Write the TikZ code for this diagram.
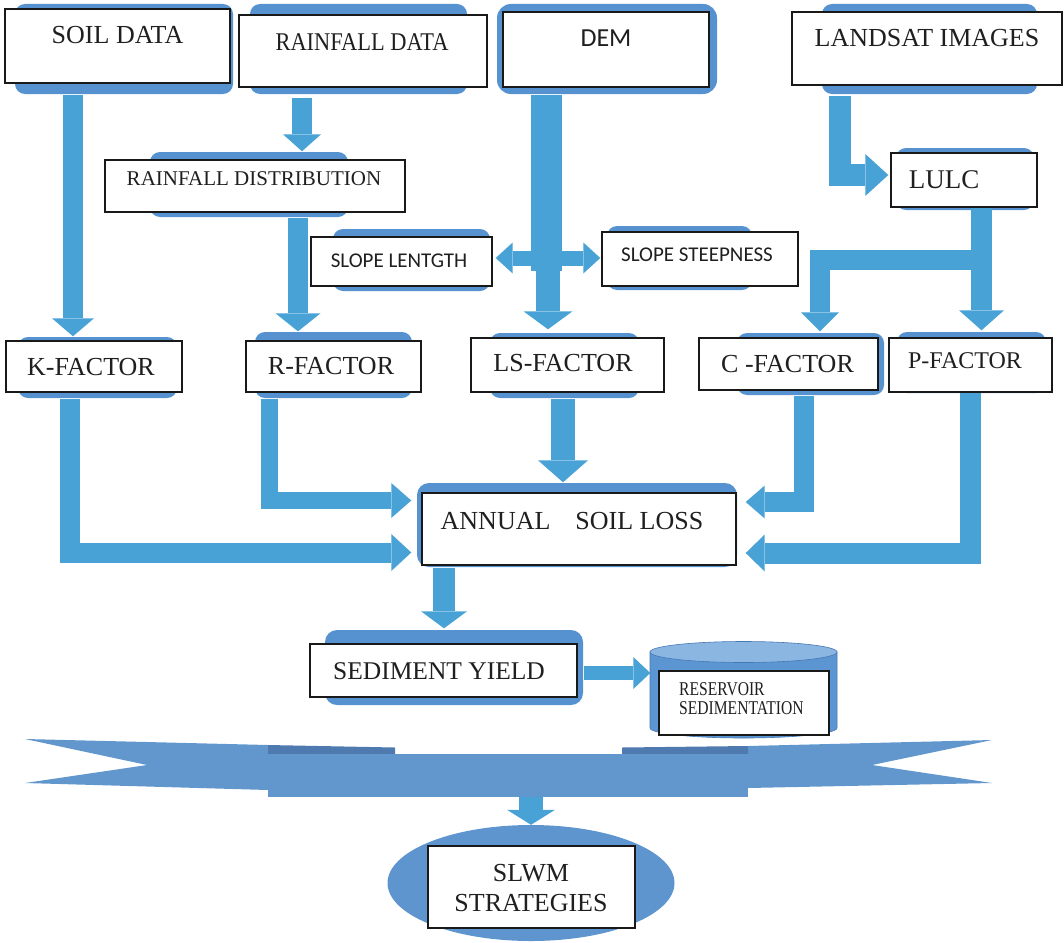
\documentclass[tikz,border=0pt]{standalone}
\usepackage{fontspec}
\setmainfont{Liberation Serif}
\newfontfamily\calib{Carlito}
\newfontfamily\condA[FakeStretch=0.88]{Liberation Serif}
\newfontfamily\condB[FakeStretch=0.8]{Liberation Serif}
\usetikzlibrary{calc,arrows.meta,shapes.geometric}
\definecolor{arrowc}{RGB}{72,162,213}
\definecolor{backc}{RGB}{86,146,208}
\definecolor{bannerc}{RGB}{98,151,205}
\definecolor{foldc}{RGB}{78,122,176}
\definecolor{cylc}{RGB}{91,150,210}
\definecolor{cyltop}{RGB}{140,182,226}
\definecolor{cylline}{RGB}{70,120,180}
\definecolor{ellc}{RGB}{94,149,207}
\begin{document}
\begin{tikzpicture}[x=1pt,y=-1pt,
  box/.style={draw=black!90, line width=1.4pt, fill=white, inner sep=0pt},
  back/.style={fill=backc, rounded corners=10pt},
  lbl/.style={inner sep=0pt, text=black!88},
  ar/.style n args={3}{draw=arrowc, line width=#1, -{Triangle[width=#2,length=#3,line width=0pt]}},
  dar/.style n args={3}{draw=arrowc, line width=#1, {Triangle[width=#2,length=#3,line width=0pt]}-{Triangle[width=#2,length=#3,line width=0pt]}},
]
\useasboundingbox (0,0) rectangle (1064,942);

% backings
\fill[back] (15,4) rectangle (233,94);
\fill[back] (250,4) rectangle (467,94);
\fill[back, rounded corners=14pt] (497,4) rectangle (717,94);
\fill[back] (822,4) rectangle (1037,94);
\fill[back] (150,152) rectangle (348,217);
\fill[back] (333,229) rectangle (490,291);
\fill[back] (607,226) rectangle (752,290);
\fill[back] (896,148) rectangle (1034,210);
\fill[back] (18,337) rectangle (177,398);
\fill[back] (255,332) rectangle (412,398);
\fill[back] (490,333) rectangle (639,398);
\fill[back] (737,333) rectangle (884,395);
\fill[back] (897,332) rectangle (1046,393);
\fill[back, rounded corners=12pt] (417,483) rectangle (737,567);
\fill[back, rounded corners=12pt] (325,630) rectangle (583,705);

% boxes
\node[box, minimum width=225pt, minimum height=74pt] (soil) at (117.5,46) {};
\node[box, minimum width=248pt, minimum height=72pt] (rain) at (363,51) {};
\node[box, minimum width=206pt, minimum height=75pt] (dem) at (606,49.5) {};
\node[box, minimum width=270pt, minimum height=73pt] (landsat) at (927,48.5) {};
\node[box, minimum width=300pt, minimum height=52pt] (dist) at (255,186) {};
\node[box, minimum width=181pt, minimum height=49pt] (slopeL) at (401.5,261.5) {};
\node[box, minimum width=196pt, minimum height=54pt] (slopeS) at (700,259) {};
\node[box, minimum width=146pt, minimum height=54pt] (lulc) at (964,180) {};
\node[box, minimum width=176pt, minimum height=51pt] (k) at (94,366.5) {};
\node[box, minimum width=175pt, minimum height=51pt] (r) at (333.5,366.5) {};
\node[box, minimum width=193pt, minimum height=54pt] (ls) at (567.5,365) {};
\node[box, minimum width=179pt, minimum height=52pt] (c) at (788.5,364) {};
\node[box, minimum width=163pt, minimum height=54pt] (p) at (970.5,365) {};
\node[box, minimum width=314pt, minimum height=72pt] (annual) at (579,529) {};
\node[box, minimum width=267pt, minimum height=53pt] (sed) at (443.5,670.5) {};

% reservoir cylinder
\fill[cylc, draw=cylline, line width=0.6pt] (650,652) -- (650,728)
  arc[start angle=180, end angle=360, x radius=93.5pt, y radius=10pt] -- (837,652) -- cycle;
\filldraw[fill=cyltop, draw=cylline, line width=0.6pt] (743.5,652) ellipse [x radius=93.5pt, y radius=10.5pt];
\node[box, minimum width=170pt, minimum height=64pt] (resbox) at (744,703) {};

% banner
\fill[bannerc] (25,739) -- (268,745) -- (268,790) -- (25,783) -- (147,765) -- cycle;
\fill[foldc] (268,745) -- (395,747.5) -- (395,754) -- (268,754) -- cycle;
\fill[bannerc] (992,740) -- (748,746) -- (748,788) -- (992,783) -- (872,765) -- cycle;
\fill[foldc] (748,746) -- (622,747.5) -- (622,754) -- (748,754) -- cycle;
\node[fill=bannerc, minimum width=480pt, minimum height=43pt, inner sep=0pt] (banner) at (508,775.5) {};

% goal ellipse
\node[ellipse, fill=ellc, minimum width=287pt, minimum height=116pt, inner sep=0pt] (goal) at (531,883) {};
\node[box, minimum width=207pt, minimum height=82pt] (slwmbox) at (531.5,887) {};

% texts
\node[lbl, font={\fontsize{26}{30}\selectfont}] (soilt) at (117.5,35) {SOIL DATA};
\node[lbl, font={\condA\fontsize{25.5}{30}\selectfont}] (raint) at (362,42) {RAINFALL DATA};
\node[lbl, font={\calib\fontsize{26}{30}\selectfont}] (demt) at (606,38) {DEM};
\node[lbl, font={\fontsize{26}{30}\selectfont}] (landsatt) at (927,38) {LANDSAT IMAGES};
\node[lbl, font={\fontsize{21}{25}\selectfont}] (distt) at (254,178.5) {RAINFALL DISTRIBUTION};
\node[lbl, font={\calib\fontsize{21}{25}\selectfont}] (slopeLt) at (399,261) {SLOPE LENTGTH};
\node[lbl, font={\calib\fontsize{21}{25}\selectfont}] (slopeSt) at (697,255) {SLOPE STEEPNESS};
\node[lbl, font={\fontsize{27}{30}\selectfont}] (lulct) at (944,180) {LULC};
\node[lbl, font={\fontsize{26}{30}\selectfont}] (kt) at (91,367.5) {K-FACTOR};
\node[lbl, font={\fontsize{26}{30}\selectfont}] (rt) at (331,366) {R-FACTOR};
\node[lbl, font={\fontsize{26}{30}\selectfont}] (lst) at (563,363) {LS-FACTOR};
\node[lbl, font={\fontsize{26}{30}\selectfont}] (ct) at (787.5,364) {C -FACTOR};
\node[lbl, font={\fontsize{24}{30}\selectfont}] (pt) at (965,361) {P-FACTOR};
\node[lbl, font={\fontsize{26}{30}\selectfont}] (annualt) at (572,521) {ANNUAL\hspace{25pt}SOIL LOSS};
\node[lbl, font={\fontsize{25.5}{30}\selectfont}] (sedt) at (439,671) {SEDIMENT YIELD};
\node[lbl, anchor=west, align=left, font={\condB\fontsize{19.5}{19}\selectfont}] (rest) at (679,698.5) {RESERVOIR\\SEDIMENTATION};
\node[lbl, align=center, font={\fontsize{26}{30}\selectfont}] (slwmt) at (531,888) {SLWM\\STRATEGIES};

% connectors
\draw[ar={20pt}{42pt}{18pt}] ($(soil.south)+(-44.5,11)$) -- ($(k.north)+(-21,-4)$);
\draw[ar={20pt}{38pt}{17pt}] ($(rain.south)+(-61,10)$) -- ($(dist.north)+(47,-8)$);
\draw[ar={20pt}{45pt}{18pt}] ($(dist.south)+(43,5)$) -- ($(r.north)+(-35.5,-9)$);
\draw[dar={15pt}{31pt}{17pt}] ($(slopeL.east)+(3,-3.5)$) -- ($(slopeS.west)+(-1,-1)$);
\draw[draw=arrowc, line width=31pt] ($(dem.south)+(-59.5,7)$) -- ($(dem.south)+(-59.5,183)$);
\draw[ar={24pt}{49pt}{18pt}] ($(dem.south)+(-58,7)$) -- ($(ls.north)+(-19.5,-8)$);
\draw[ar={22pt}{42pt}{23pt}] ($(landsat.south)+(-87,10)$) |- ($(lulc.west)+(-2,-5)$);
\draw[ar={21pt}{45pt}{20pt}] ($(lulc.south)+(17.5,0)$) -- ($(p.north)+(11,-7)$);
\draw[ar={20pt}{38pt}{19pt}] ($(lulc.south)+(17.5,52.5)$) -| ($(c.north)+(31.5,-6)$);
\draw[ar={20pt}{37pt}{20pt}] ($(k.south)+(-24,6)$) |- ($(annual.west)+(-10,23.5)$);
\draw[ar={17pt}{35pt}{20pt}] ($(r.south)+(-64.5,6)$) |- ($(annual.west)+(-10,-28.5)$);
\draw[ar={24pt}{50pt}{22pt}] ($(ls.south)+(-4.5,6)$) -- ($(annual.north)+(-16,-10)$);
\draw[ar={20pt}{33pt}{19pt}] ($(c.south)+(15,5)$) |- ($(annual.east)+(9,-27)$);
\draw[ar={21pt}{37pt}{19pt}] (p.south) |- ($(annual.east)+(9,24)$);
\draw[ar={22pt}{46pt}{17pt}] ($(annual.south)+(-135,2)$) -- ($(sed.north)+(0.5,-15)$);
\draw[ar={14pt}{32pt}{17pt}] ($(sed.east)+(6,2.5)$) -- ($(resbox.west)+(-8,-30)$);
\draw[ar={24pt}{48pt}{15pt}] ($(banner.south)+(23,0)$) -- (goal.north);
\end{tikzpicture}
\end{document}
